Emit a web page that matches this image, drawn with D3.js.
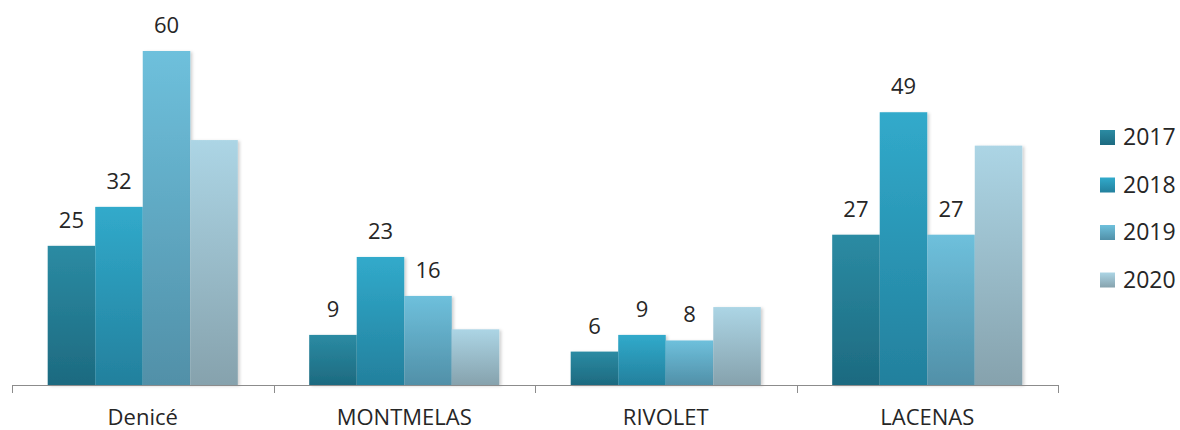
<!DOCTYPE html>
<html><head><meta charset="utf-8">
<script src="https://cdn.jsdelivr.net/npm/d3@7"></script>
<style>body{margin:0;background:#fff}svg{display:block}</style>
</head><body>
<svg id="c" width="1180" height="430"></svg>
<script>
const categories = ["Denicé", "MONTMELAS", "RIVOLET", "LACENAS"];
const seriesNames = ["2017", "2018", "2019", "2020"];
const v2017 = [25, 9, 6, 27];
const v2018 = [32, 23, 9, 49];
const v2019 = [60, 16, 8, 27];
const v2020 = [44, 10, 14, 43];
const showLabel = [true, true, true, false];
const seriesValues = [v2017, v2018, v2019, v2020];
const colorTop = ["#2b8ba3", "#31aacb", "#6ec0dc", "#acd5e5"];
const colorBot = ["#1d6a80", "#23809d", "#5190a8", "#86a2ad"];

const svg = d3.select("#c");
const font = "'Open Sans', 'Noto Sans', sans-serif";
const x0 = d3.scaleBand().domain(categories).range([12, 1058]).paddingInner(0.273).paddingOuter(0.1365);
const x1 = d3.scaleBand().domain(seriesNames).range([0, x0.bandwidth()]);
const y = d3.scaleLinear().domain([0, 60]).range([385, 51]);

const defs = svg.append("defs");
seriesNames.forEach((s, i) => {
  const g = defs.append("linearGradient").attr("id", "g" + i).attr("x1", 0).attr("y1", 0).attr("x2", 0).attr("y2", 1);
  g.append("stop").attr("offset", "0%").attr("stop-color", colorTop[i]);
  g.append("stop").attr("offset", "100%").attr("stop-color", colorBot[i]);
});
const f = defs.append("filter").attr("id", "sh").attr("x", "-20%").attr("y", "-20%").attr("width", "140%").attr("height", "140%");
f.append("feDropShadow").attr("dx", 2).attr("dy", 1).attr("stdDeviation", 1.8).attr("flood-color", "#000").attr("flood-opacity", 0.18);

const data = [];
categories.forEach((c, ci) => seriesNames.forEach((s, si) => data.push({c, s, si, v: seriesValues[si][ci]})));

const bars = svg.append("g");
bars.selectAll("rect").data(data).join("rect")
  .attr("x", d => x0(d.c) + x1(d.s))
  .attr("y", d => y(d.v))
  .attr("width", x1.bandwidth())
  .attr("height", d => y(0) - y(d.v))
  .attr("fill", d => "url(#g" + d.si + ")")
  .attr("filter", "url(#sh)");

svg.append("g").selectAll("text").data(data.filter(d => showLabel[d.si])).join("text")
  .attr("x", d => x0(d.c) + x1(d.s) + x1.bandwidth() / 2)
  .attr("y", d => y(d.v) - 18)
  .attr("text-anchor", "middle")
  .attr("font-family", font).attr("font-size", 22).attr("fill", "#262626")
  .text(d => d.v);

// axis
const ax = svg.append("g");
ax.append("line").attr("x1", 12).attr("x2", 1058).attr("y1", 385.5).attr("y2", 385.5).attr("stroke", "#8c8c8c").attr("stroke-width", 1);
const bounds = categories.map(c => x0(c) - x0.step() * x0.paddingInner() / 2).concat([1058]);
ax.selectAll("line.t").data(bounds).join("line").attr("class", "t")
  .attr("x1", d => Math.round(d) + 0.5).attr("x2", d => Math.round(d) + 0.5)
  .attr("y1", 385).attr("y2", 393).attr("stroke", "#8c8c8c");
ax.selectAll("text").data(categories).join("text")
  .attr("x", d => x0(d) + x0.bandwidth() / 2)
  .attr("y", 425)
  .attr("text-anchor", "middle")
  .attr("font-family", font).attr("font-size", 22).attr("fill", "#262626")
  .text(d => d);

// legend
const leg = svg.append("g");
const ly = d3.scalePoint().domain(seriesNames).range([137, 279.5]);
seriesNames.forEach((s, i) => {
  leg.append("rect").attr("x", 1100).attr("y", ly(s) - 7).attr("width", 15).attr("height", 15).attr("fill", "url(#g" + i + ")");
  leg.append("text").attr("x", 1123).attr("y", ly(s) + 8)
    .attr("font-family", font).attr("font-size", 23).attr("fill", "#262626").text(s);
});
</script>
</body></html>
